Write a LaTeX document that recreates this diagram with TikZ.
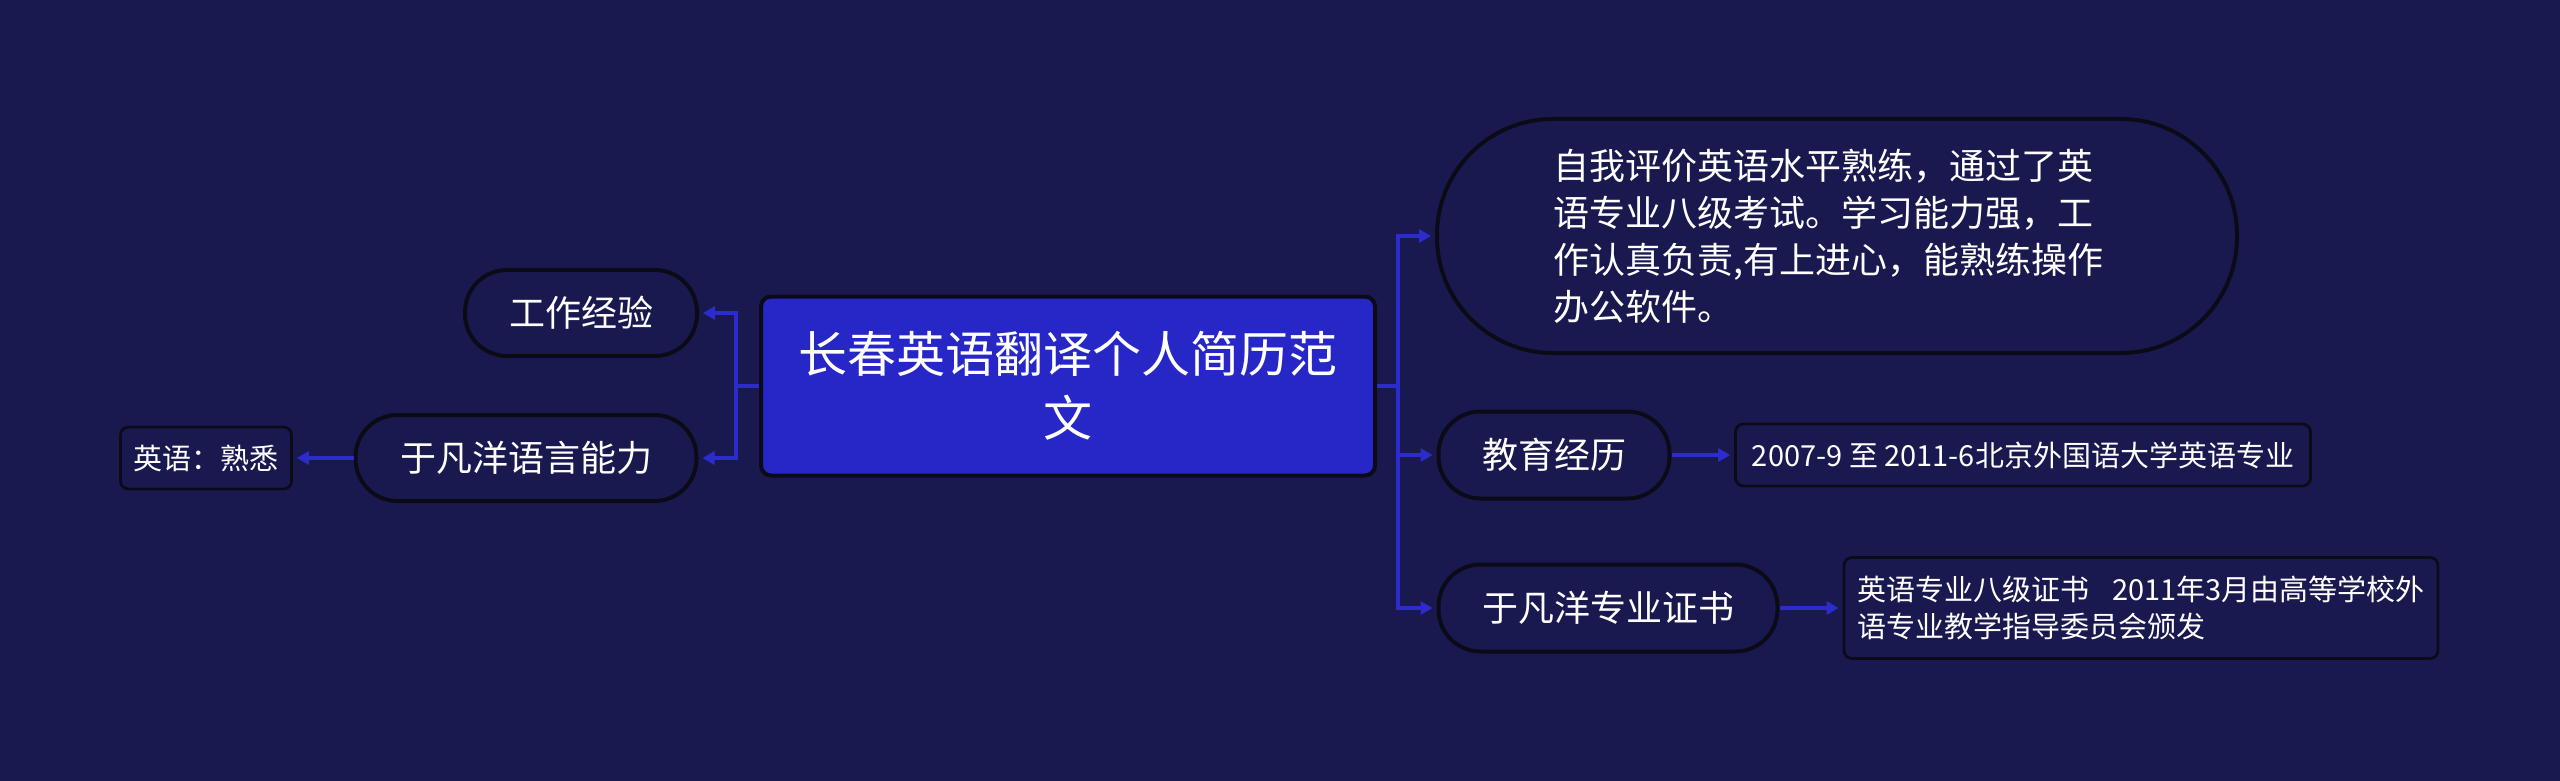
\documentclass[tikz,border=0pt]{standalone}
\usepackage{fontspec}
\setmainfont{Noto Sans CJK SC}
\usetikzlibrary{arrows.meta}
\definecolor{bg}{HTML}{191950}
\definecolor{mainfill}{HTML}{2727C8}
\definecolor{linkc}{HTML}{2C2CCC}
\definecolor{bordc}{HTML}{0B0B18}
\tikzset{
  mainbox/.style={draw=bordc, line width=2pt, fill=mainfill, rounded corners=5pt, text=white, align=center, inner sep=0pt, font=\fontsize{24.5}{32}\selectfont},
  lvone/.style={draw=bordc, line width=2pt, fill=bg, rounded corners=21pt, text=white, align=center, inner sep=0pt, minimum height=43pt, font=\fontsize{18}{23.5}\selectfont},
  lvtwo/.style={draw=bordc, line width=1.4pt, fill=bg, rounded corners=4pt, text=white, inner sep=0pt, font=\fontsize{14.5}{18.5}\selectfont},
  link/.style={draw=linkc, line width=2.2pt, -{Triangle[length=6pt,width=6.5pt]}, shorten >=2pt},
  plainlink/.style={draw=linkc, line width=2.2pt}
}
\begin{document}
\begin{tikzpicture}[x=0.5pt,y=-0.5pt]
\fill[bg] (0,0) rectangle (2560,781);
\useasboundingbox (0,0) rectangle (2560,781);

\node[mainbox, minimum width=307pt, minimum height=89.5pt] (c) at (1068,386) {长春英语翻译个人简历范\\文};

\node[lvone, minimum width=116pt] (work) at (581,313) {工作经验};
\node[lvone, minimum width=170.5pt] (lang) at (526,458) {于凡洋语言能力};
\node[lvtwo, minimum width=85.5pt, minimum height=31pt] (eng) at (206,458) {英语：熟悉};

\node[lvone, minimum width=400pt, minimum height=117pt, rounded corners=58pt, text width=284pt, align=left] (self) at (1837,236) {自我评价英语水平熟练，通过了英\\语专业八级考试。学习能力强，工\\作认真负责,有上进心，能熟练操作\\办公软件。};
\node[lvone, minimum width=115.5pt, minimum height=43.5pt] (edu) at (1554,455) {教育经历};
\node[lvtwo, minimum width=287.5pt, minimum height=31pt] (eduD) at (2023,455) {2007-9 至 2011-6北京外国语大学英语专业};
\node[lvone, minimum width=169.5pt, minimum height=43.5pt] (cert) at (1608,608) {于凡洋专业证书};
\node[lvtwo, minimum height=50.5pt, text width=284pt, align=left, inner sep=6.5pt] (certD) at (2141,608) {英语专业八级证书\hspace{0.8em}2011年3月由高等学校外\\语专业教学指导委员会颁发};

\coordinate (lj) at (736,386);
\coordinate (rj) at (1398,386);
\draw[plainlink] (c.west) -- (lj);
\draw[link] (lj) |- (work.east);
\draw[link] (lj) |- (lang.east);
\draw[link] (lang.west) -- (eng.east);

\draw[plainlink] (c.east) -- (rj);
\draw[link] (rj) |- (self.west);
\draw[link] (rj) |- (edu.west);
\draw[link] (rj) |- (cert.west);
\draw[link] (edu.east) -- (eduD.west);
\draw[link] (cert.east) -- (certD.west);
\end{tikzpicture}
\end{document}
